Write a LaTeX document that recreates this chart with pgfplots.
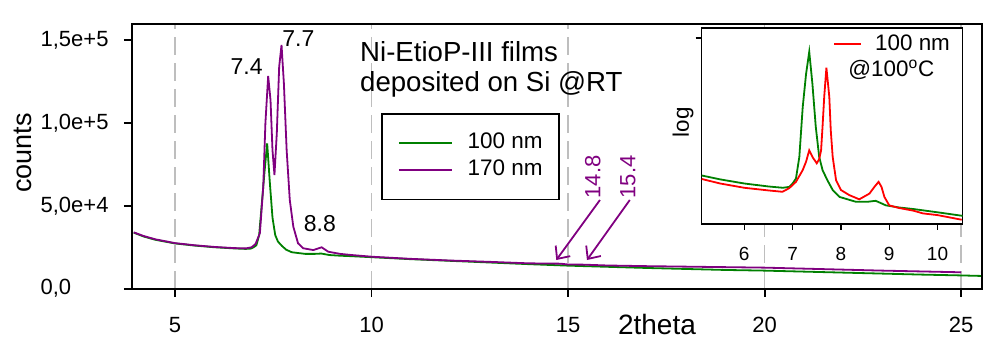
\documentclass[border=0pt]{standalone}
\usepackage{pgfplots}
\pgfplotsset{compat=1.18}
\usepackage{pgfplotstable}
\usepackage{fontspec}
\setmainfont{Liberation Sans}
\usetikzlibrary{arrows.meta}
\definecolor{cgreen}{RGB}{0,128,0}
\definecolor{cpurple}{RGB}{128,0,128}
\definecolor{cred}{RGB}{255,0,0}
\definecolor{cgrid}{RGB}{190,190,190}

\pgfplotstableread{
x y
3.95 33800
4.2 31500
4.5 29500
5.0 27300
5.5 26000
6.0 25000
6.5 24300
6.8 24000
6.93 24200
7.0 25000
7.07 26200
7.14 32200
7.21 51800
7.28 71200
7.345 87700
7.41 64800
7.48 42900
7.55 32300
7.62 28400
7.72 25800
7.83 23500
7.97 22000
8.31 21000
8.55 21000
8.72 21200
8.93 20300
9.2 19900
9.5 19600
10 19000
11 17800
12 16800
13 15800
14 14800
15 13900
16 13200
17 12500
18 11900
19 11300
20 10900
21 10300
22 9700
23 9100
24 8500
25 8000
25.5 7700
}\greendata

\pgfplotstableread{
x y
3.95 34000
4.2 31800
4.5 29800
5.0 27500
5.5 26200
6.0 25200
6.5 24500
6.8 24300
6.95 25000
7.05 27000
7.16 33600
7.245 61500
7.30 100000
7.37 128300
7.43 113800
7.48 83600
7.53 68600
7.59 93900
7.65 133900
7.71 147000
7.77 123900
7.84 83700
7.92 53500
8.01 37400
8.13 27400
8.26 24400
8.52 23300
8.73 25000
8.90 22300
9.2 21000
9.5 20300
10 19300
11 18000
12 17000
13 16200
14 15300
14.8 15100
15 14600
15.4 14500
16 14000
17 13600
18 13300
19 13000
20 12700
21 12100
22 11500
23 10900
24 10400
25 9900
}\purpledata

\pgfplotstableread{
x y
5.12 26100
5.5 25000
6.0 24000
6.5 23400
6.79 23100
6.93 23900
7.07 25400
7.21 28400
7.28 30800
7.345 34300
7.42 32000
7.50 30300
7.55 31500
7.59 34300
7.62 42900
7.655 57100
7.70 75400
7.76 57100
7.79 41600
7.83 32200
7.90 25800
8.0 23500
8.17 22400
8.38 21500
8.59 22700
8.7 24300
8.78 25400
8.84 24200
8.90 22000
9.0 20300
9.2 19800
9.5 19300
9.7 18800
10 18500
10.5 17700
}\reddata

\begin{document}
\begin{tikzpicture}
\useasboundingbox (0,0) rectangle (500pt,175.5pt);
\begin{axis}[
  at={(66pt,31.15pt)}, anchor=south west, scale only axis,
  width=425pt, height=132.35pt,
  xmin=3.906, xmax=25.53, ymin=0, ymax=159700,
  xtick={5,10,15,20,25}, ytick={0,50000,100000,150000},
  yticklabels={{0,0},{5,0e+4},{1,0e+5},{1,5e+5}},
  scaled y ticks=false,
  tick pos=left, tick align=outside, major tick length=4pt,
  axis line style={line width=0.9pt},
  major tick style={black, line width=0.9pt},
  xmajorgrids, major grid style={cgrid, dash pattern=on 9pt off 4pt, line width=0.7pt},
  /pgf/number format/assume math mode=true,
  tick label style={font=\fontsize{11}{13}\selectfont},
  yticklabel style={anchor=east, text width=35.5pt, align=left, inner sep=0pt, xshift=-6pt},
  xticklabel style={inner sep=0pt, yshift=-10pt},
  xlabel={2theta}, xlabel style={at={(axis description cs:0.6176,-0.137)}, anchor=center, font=\fontsize{14}{16}\selectfont},
  ylabel={counts}, ylabel style={at={(axis description cs:-0.128,0.513)}, anchor=center, rotate=0, font=\fontsize{13.5}{16}\selectfont},
  legend cell align=left,
  legend image code/.code={\draw[#1] (0pt,0pt) -- (26.5pt,0pt);},
  legend style={at={(0.2929,0.6638)}, anchor=north west, draw=black, line width=0.9pt, fill=white,
    inner xsep=8pt, inner ysep=9.5pt, row sep=2.85pt, column sep=7.5pt,
    nodes={inner sep=0pt, text height=8pt, text depth=2.5pt},
    font=\fontsize{11.25}{13.5}\selectfont},
]
\addplot[cgreen, line width=0.9pt] table[x=x,y=y] {\greendata};
\addlegendentry{100 nm}
\addplot[cpurple, line width=0.9pt] table[x=x,y=y] {\purpledata};
\addlegendentry{170 nm}
\addplot[cpurple, line width=0.9pt, -{Straight Barb[length=5pt,width=9pt]}, forget plot] coordinates {(15.81,53500) (14.70,17300)};
\addplot[cpurple, line width=0.9pt, -{Straight Barb[length=5pt,width=9pt]}, forget plot] coordinates {(16.57,53500) (15.48,17300)};
\node[font=\fontsize{11.5}{13}\selectfont] at (axis cs:6.823,133900) {7.4};
\node[font=\fontsize{11.5}{13}\selectfont] at (axis cs:8.137,150600) {7.7};
\node[font=\fontsize{11.5}{13}\selectfont] at (axis cs:8.687,39400) {8.8};
\node[font=\fontsize{11}{13}\selectfont, text=cpurple, rotate=90] at (axis cs:15.63,67400) {14.8};
\node[font=\fontsize{11}{13}\selectfont, text=cpurple, rotate=90] at (axis cs:16.52,67400) {15.4};
\node[font=\fontsize{13.8}{16}\selectfont, anchor=west, inner sep=0pt] at (rel axis cs:0.268,0.894) {Ni-EtioP-III films};
\node[font=\fontsize{13.8}{16}\selectfont, anchor=west, inner sep=0pt] at (rel axis cs:0.268,0.773) {deposited on Si @RT};
\end{axis}

\begin{axis}[
  at={(350.85pt,63.5pt)}, anchor=south west, scale only axis,
  width=130.5pt, height=98pt,
  xmin=5.12, xmax=10.52, ymode=log, ymin=17000, ymax=110000,
  xtick={6,7,8,9,10}, ytick={100000}, yticklabels={}, yminorticks=false,
  tick pos=left, tick align=outside, major tick length=3pt,
  axis background/.style={fill=white},
  axis line style={line width=0.7pt},
  major tick style={black, line width=0.7pt},
  /pgf/number format/assume math mode=true,
  tick label style={font=\fontsize{9.5}{11}\selectfont},
  xticklabel style={inner sep=0pt, yshift=-8.5pt},
  ylabel={log}, ylabel style={at={(axis description cs:-0.0716,0.52)}, anchor=center, font=\fontsize{11.2}{13}\selectfont},
  legend image code/.code={\draw[#1] (0pt,0pt) -- (13.5pt,0pt);},
  legend style={at={(0.503,0.918)}, anchor=west, draw=none, fill=none,
    inner sep=0pt, column sep=6.5pt, nodes={inner sep=0pt},
    font=\fontsize{11.2}{13}\selectfont},
]
\addplot[cgreen, line width=0.9pt, forget plot] table[x=x,y=y] {\greendata};
\addplot[cred, line width=0.9pt] table[x=x,y=y] {\reddata};
\addlegendentry{100 nm}
\node[font=\fontsize{11.2}{13}\selectfont, anchor=west, inner sep=0pt] at (rel axis cs:0.5605,0.786) {@100\textsuperscript{o}C};
\end{axis}
\end{tikzpicture}
\end{document}
